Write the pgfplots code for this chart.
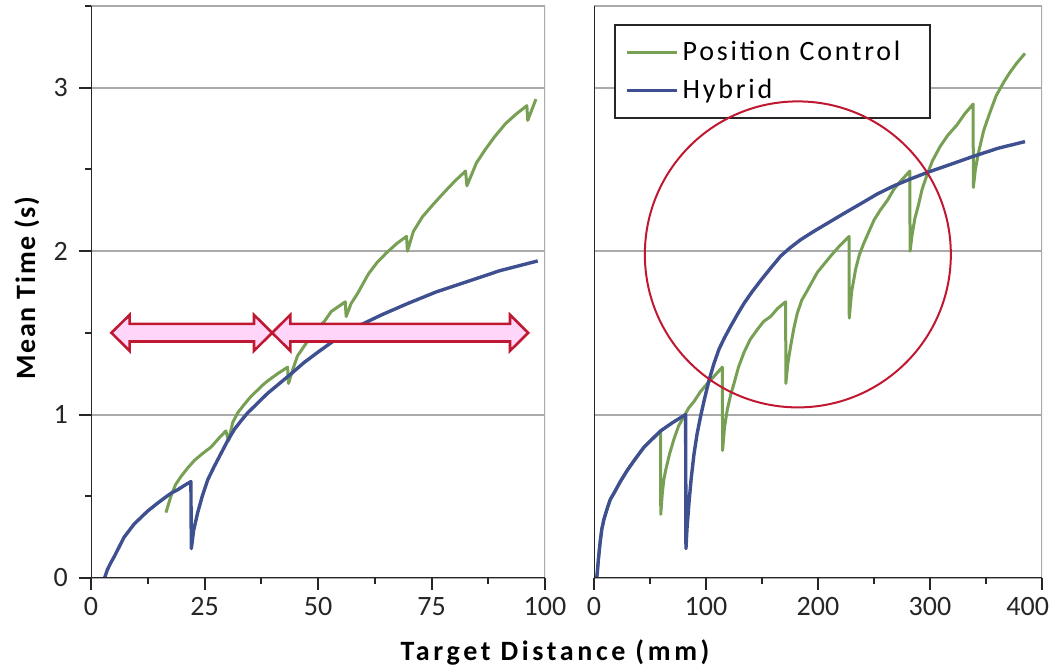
\documentclass[border=0pt]{standalone}
\usepackage{fontspec}
\setmainfont{Carlito}
\usepackage{pgfplots}
\pgfplotsset{compat=1.18}

\definecolor{pcgreen}{RGB}{119,160,84}
\definecolor{hyblue}{RGB}{63,80,145}
\definecolor{gridgray}{RGB}{170,170,170}
\definecolor{axisdark}{RGB}{38,38,38}
\definecolor{arrowred}{RGB}{192,24,48}
\definecolor{arrowpink}{RGB}{255,214,250}

\pgfplotsset{
  panel/.style={
    scale only axis,
    height=286pt,
    ymin=0, ymax=3.5,
    axis line style={draw=none},
    ytick={0,1,2,3},
    ymajorgrids,
    major grid style={gridgray, line width=1pt},
    tick align=outside,
    xtick pos=left, ytick pos=left,
    major tick length=6pt,
    minor tick length=3pt,
    tick style={axisdark, line width=1pt},
    ticklabel style={font=\fontsize{14}{16}\selectfont, text=axisdark},
    yticklabel style={xshift=-2pt},
    /pgf/number format/assume math mode=true,
  },
  pc/.style={pcgreen, line width=1.5pt, line join=round},
  hy/.style={hyblue, line width=1.7pt, line join=round},
}

\begin{document}
\begin{tikzpicture}
\useasboundingbox (0,0) rectangle (527pt,336pt);

% left panel
\begin{axis}[panel,
  at={(45.5pt,47pt)}, anchor=south west,
  width=227pt,
  xmin=0, xmax=100,
  xtick={0,25,50,75,100},
  minor xtick={12.5,37.5,62.5,87.5},
  minor ytick={0.5,1.5,2.5,3.5},
]
\addplot[pc] coordinates {
 (16.5,0.40) (17.6,0.50) (18.6,0.57) (19.8,0.62) (21.2,0.67) (22.8,0.72)
 (24.5,0.76) (26.4,0.80) (28,0.85) (29.7,0.90) (30.3,0.84) (31.2,0.95)
 (32.3,1.01) (33.7,1.06) (35.2,1.11) (36.7,1.15) (38.2,1.19) (39.6,1.22)
 (41.1,1.25) (43.3,1.29) (43.5,1.19) (44.5,1.28) (45.5,1.36) (47,1.42)
 (48.5,1.48) (50,1.53) (51.4,1.57) (52.9,1.63) (56.0,1.69) (56.2,1.60)
 (57.3,1.68) (58.7,1.74) (61.1,1.86) (63,1.93) (65.1,1.99) (67.5,2.05)
 (69.5,2.09) (69.7,2.00) (71,2.12) (73,2.21) (75.5,2.29) (77.8,2.36)
 (80.2,2.43) (82.5,2.49) (82.8,2.40) (84.9,2.54) (86.8,2.62) (88.9,2.70)
 (91.3,2.78) (93.7,2.84) (96,2.89) (96.2,2.80) (98,2.93)
};
\addplot[hy] coordinates {
 (3.0,0) (3.6,0.05) (4.3,0.09) (5.1,0.13) (6.2,0.19) (7.3,0.25) (8.4,0.29)
 (9.5,0.33) (11,0.37) (12.5,0.41) (14.3,0.45) (16.2,0.49) (17.7,0.52)
 (19.1,0.54) (20.5,0.565) (22.0,0.59) (22.1,0.18) (22.6,0.29) (23.5,0.40)
 (24.5,0.50) (25.7,0.60) (27.1,0.68) (28.6,0.76) (30.1,0.84) (31.6,0.91)
 (33,0.96) (34.5,1.01) (36.7,1.07) (38.9,1.13) (41.5,1.19) (44.1,1.25)
 (47,1.32) (49.9,1.38) (52.9,1.44) (56,1.50) (59.5,1.55) (64,1.61)
 (69.8,1.68) (76,1.75) (82.5,1.81) (90,1.88) (98.4,1.94)
};
\draw[arrowred, fill=arrowpink, line width=1.3pt, line join=miter]
 (axis cs:4.5,1.5) -- (axis cs:8.5,1.61) -- (axis cs:8.5,1.555)
 -- (axis cs:35.9,1.555) -- (axis cs:35.9,1.61) -- (axis cs:39.9,1.5)
 -- (axis cs:35.9,1.39) -- (axis cs:35.9,1.447) -- (axis cs:8.5,1.447)
 -- (axis cs:8.5,1.39) -- cycle;
\draw[arrowred, fill=arrowpink, line width=1.3pt, line join=miter]
 (axis cs:39.9,1.5) -- (axis cs:43.9,1.61) -- (axis cs:43.9,1.555)
 -- (axis cs:92.3,1.555) -- (axis cs:92.3,1.61) -- (axis cs:96.3,1.5)
 -- (axis cs:92.3,1.39) -- (axis cs:92.3,1.447) -- (axis cs:43.9,1.447)
 -- (axis cs:43.9,1.39) -- cycle;
\draw[gridgray, line width=1pt] (rel axis cs:0,1) -- (rel axis cs:1,1) -- (rel axis cs:1,0);
\draw[axisdark, line width=1.3pt] (rel axis cs:0,1) -- (rel axis cs:0,0) -- (rel axis cs:1,0);
\end{axis}

% right panel
\begin{axis}[panel,
  at={(297pt,47pt)}, anchor=south west,
  width=224pt,
  xmin=0, xmax=400,
  xtick={0,100,200,300,400},
  xticklabels={0,100,200,300,\makebox[7pt][r]{400}},
  minor xtick={50,150,250,350},
  yticklabels={},
  ytick style={draw=none},
  legend cell align=left,
  legend style={at={(rel axis cs:0.045,0.9685)}, anchor=north west,
    draw=axisdark, line width=1pt, inner xsep=5pt, inner ysep=6pt,
    row sep=4pt,
    font=\fontsize{14}{17}\selectfont\addfontfeatures{LetterSpace=10}},
  legend image code/.code={\draw[#1] (0pt,0pt) -- (25pt,0pt);},
]
\addplot[pc] coordinates {
 (2.4,0) (2.9,0.03) (4,0.12) (5.5,0.22) (7,0.30) (8.9,0.36) (12,0.43)
 (14.5,0.48) (17.9,0.52) (23.5,0.59) (29.8,0.66) (37,0.73) (44.6,0.80)
 (52,0.85) (59.5,0.90) (59.6,0.39) (61,0.52) (62.3,0.60) (64,0.66)
 (67.5,0.76) (71.4,0.85) (75.5,0.93) (80.4,0.99) (84.5,1.04) (89.3,1.08)
 (95,1.14) (101.2,1.19) (108,1.24) (114.6,1.29) (114.8,0.78) (116.5,0.92)
 (119,1.03) (122,1.12) (125,1.19) (129,1.29) (133.9,1.38) (139.5,1.46)
 (145.8,1.52) (151.5,1.57) (157.7,1.60) (164,1.65) (171.1,1.69)
 (171.3,1.19) (173,1.31) (175.6,1.42) (178.5,1.53) (181.5,1.62)
 (185.5,1.70) (190.5,1.76) (199.4,1.87) (211.3,1.97) (219,2.03)
 (227.7,2.09) (227.9,1.59) (230,1.75) (233.6,1.89) (237,1.98) (241,2.05)
 (250,2.19) (255.5,2.25) (261.9,2.31) (267.9,2.38) (274,2.43) (282,2.49)
 (282.2,2.00) (284,2.10) (286.5,2.20) (289.6,2.28) (293,2.38) (297,2.46)
 (302,2.55) (309,2.64) (316,2.71) (323.8,2.77) (331,2.84) (338.5,2.90)
 (338.7,2.39) (340.5,2.50) (343.2,2.60) (348,2.74) (353.6,2.85)
 (359,2.95) (365.5,3.03) (371,3.09) (377.4,3.15) (384.8,3.21)
};
\addlegendentry{Position Control\rule{8pt}{0pt}}
\addplot[hy] coordinates {
 (2.4,0) (2.9,0.03) (4,0.12) (5.5,0.22) (7,0.30) (8.9,0.36) (12,0.43)
 (14.5,0.48) (17.9,0.52) (23.5,0.59) (29.8,0.66) (37,0.73) (44.6,0.80)
 (52,0.85) (59.5,0.90) (70,0.95) (81.8,1.0) (82.1,0.18) (83,0.30)
 (84.8,0.46) (86.8,0.61) (89.3,0.76) (92,0.88) (95.2,0.99) (98.8,1.10)
 (102.7,1.21) (107,1.31) (111.6,1.40) (116.5,1.47) (122,1.54) (127.8,1.61)
 (133.9,1.68) (141,1.75) (148.8,1.82) (157,1.89) (166.7,1.97) (175,2.02)
 (184.5,2.07) (196,2.12) (208.3,2.17) (223,2.23) (238.1,2.29) (253,2.35)
 (267.9,2.40) (282,2.44) (297,2.48) (318,2.53) (338.7,2.58) (361,2.63)
 (384.8,2.67)
};
\addlegendentry{Hybrid}
\coordinate (circlecentre) at (axis cs:182,1.98);
\draw[gridgray, line width=1pt] (rel axis cs:0,1) -- (rel axis cs:1,1) -- (rel axis cs:1,0);
\draw[axisdark, line width=1.3pt] (rel axis cs:0,1) -- (rel axis cs:0,0) -- (rel axis cs:1,0);
\end{axis}
% circle drawn after the axis so that it lies over the legend box
\draw[arrowred, line width=1pt] (circlecentre) circle [radius=76.5pt];

\node[rotate=90, anchor=base, font=\fontsize{14}{17}\selectfont\bfseries\addfontfeatures{LetterSpace=6}]
  at (17.5pt,192pt) {Mean Time (s)};
\node[anchor=base, font=\fontsize{14}{17}\selectfont\bfseries\addfontfeatures{LetterSpace=13}]
  at (277.5pt,5.5pt) {Target Distance (mm)};
\end{tikzpicture}
\end{document}
